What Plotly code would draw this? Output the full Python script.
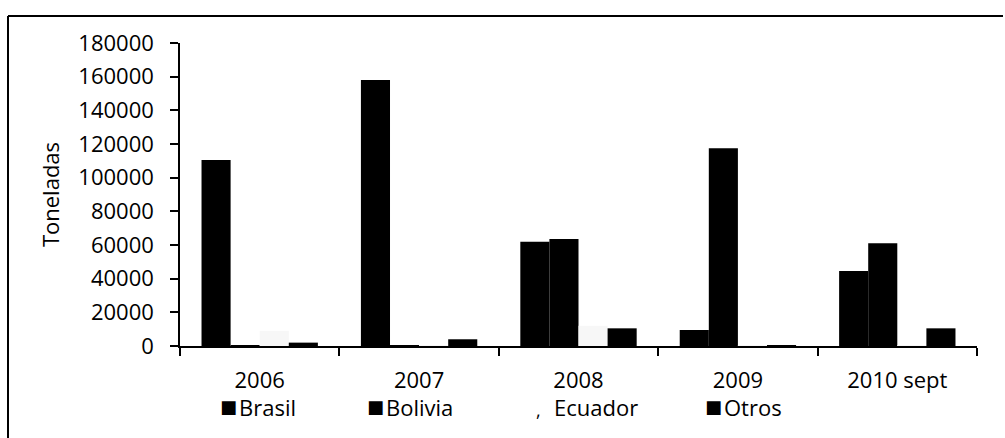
import plotly.graph_objects as go

years = ["2006", "2007", "2008", "2009", "2010 sept"]
brasil = [110500, 158000, 62000, 9500, 44500]
bolivia = [400, 300, 63500, 117500, 61000]
ecuador = [9000, 500, 12000, 300, 500]
otros = [2000, 4000, 10500, 300, 10500]
series_names = ["Brasil", "Bolivia", "Ecuador", "Otros"]
series_colors = ["#000000", "#000000", "#f7f7f7", "#000000"]
y_ticks = [0, 20000, 40000, 60000, 80000, 100000, 120000, 140000, 160000, 180000]

FONT = "Open Sans"
W, H = 1005, 438
L, R, T, B = 180, 28, 43, 92
PW, PH = W - L - R, H - T - B

def px(x):
    return (x - L) / PW

def py(y):
    return (H - B - y) / PH

fig = go.Figure()
for name, vals, col in zip(series_names, [brasil, bolivia, ecuador, otros], series_colors):
    fig.add_trace(go.Bar(x=years, y=vals, name=name, marker=dict(color=col, line=dict(width=0)),
                         showlegend=False))

fig.update_layout(
    width=W, height=H,
    margin=dict(l=L, r=R, t=T, b=B),
    paper_bgcolor="white", plot_bgcolor="white",
    barmode="group", bargap=0.27, bargroupgap=0,
    font=dict(family=FONT, size=22, color="black"),
    xaxis=dict(type="category", tickson="boundaries", ticks="outside", ticklen=8, tickwidth=1.5,
               tickcolor="black", showline=True, linecolor="black", linewidth=1.5,
               showgrid=False, ticklabelstandoff=14, tickfont=dict(size=22)),
    yaxis=dict(range=[0, 180000], tickvals=y_ticks, ticktext=[str(v) for v in y_ticks],
               ticks="outside", ticklen=8, tickwidth=1.5, tickcolor="black",
               showline=True, linecolor="black", linewidth=1.5, showgrid=False, zeroline=False,
               ticklabelstandoff=12, tickfont=dict(size=22),
               title=dict(text="Toneladas", font=dict(size=22), standoff=13)),
)

# frame lines (top and left) as in the scanned original
fig.add_shape(type="line", xref="paper", yref="paper", x0=px(8), x1=px(1003), y0=py(16), y1=py(16),
              line=dict(color="black", width=2))
fig.add_shape(type="line", xref="paper", yref="paper", x0=px(8), x1=px(8), y0=py(16), y1=py(438),
              line=dict(color="black", width=2))

# legend drawn below the axis
leg_x = [228, 375, 538, 713]
for name, x in zip(series_names, leg_x):
    if name == "Ecuador":
        fig.add_annotation(x=px(x), y=py(410), xref="paper", yref="paper", text=",", showarrow=False,
                           font=dict(size=18, color="black"), xanchor="center", yanchor="middle")
        tx = x + 14
    else:
        fig.add_annotation(x=px(x), y=py(406), xref="paper", yref="paper", text="■", showarrow=False,
                           font=dict(family="DejaVu Sans", size=18, color="black"), xanchor="center",
                           yanchor="middle")
        tx = x + 9
    fig.add_annotation(x=px(tx), y=py(407), xref="paper", yref="paper",
                       text=name, showarrow=False, font=dict(size=22, color="black"),
                       xanchor="left", yanchor="middle")

fig.write_html("out.html", config={"displayModeBar": False},
               post_script="document.body.style.margin='0';")
